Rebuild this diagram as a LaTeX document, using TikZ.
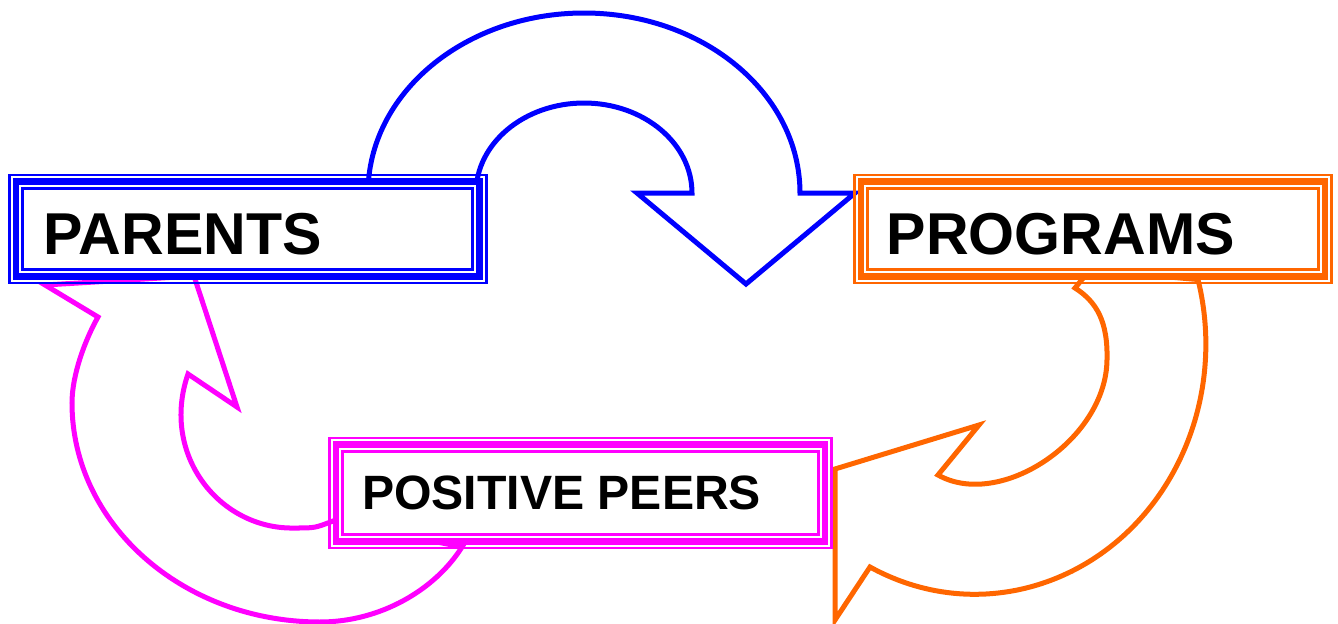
\documentclass[tikz,border=0pt]{standalone}
\usepackage{fontspec}
\setmainfont{Liberation Sans}
\usetikzlibrary{positioning}
\definecolor{PAR_BLUE}{HTML}{0000FF}
\definecolor{PRG_ORANGE}{HTML}{FF6600}
\definecolor{PEER_PINK}{HTML}{FF00FF}

\begin{document}
\begin{tikzpicture}[x=0.01cm, y=-0.01cm,
    bigarrow/.style={line width=0.05cm, line join=miter},
    tribox/.style={draw=#1, line width=0.065cm, fill=white, inner sep=0pt, outer sep=0pt},
    thinline/.style={line width=0.028cm},
    bigtxt/.style={font=\fontsize{16.8}{20}\selectfont\bfseries, inner sep=0pt},
    midtxt/.style={font=\fontsize{13.7}{16}\selectfont\bfseries, inner sep=0pt}]
      \useasboundingbox (0,0) rectangle (1338,624);

      % Parents -> Programs
      \draw[bigarrow, PAR_BLUE] (368,193) arc[start angle=180, end angle=360, x radius=216, y radius=180]
        -- (855,193) -- (746,284) -- (637,193) -- (692,193)
        arc[start angle=0, end angle=-180, x radius=108, y radius=90] -- cycle;

      % Programs -> Positive peers
      \draw[bigarrow, PRG_ORANGE] (835,620) -- (870,567)
        arc[start angle=117, end angle=-15, x radius=231, y radius=250]
        -- (1090,270) -- (1075,288)
        .. controls (1097,302) and (1108,322) .. (1107,360)
        .. controls (1106,440) and (1000,510) .. (938,475)
        -- (979,425) -- (835,469) -- cycle;

      % Positive peers -> Parents
      \draw[bigarrow, PEER_PINK] (45,285) -- (98,317)
        .. controls (85,340) and (72,375) .. (72,403)
        .. controls (72,524) and (183,622) .. (320,622)
        .. controls (380,622) and (435,590) .. (462,547)
        -- (333,521) .. controls (315,528) .. (295,528)
        .. controls (220,530) and (160,455) .. (188,374)
        -- (237,407) -- (194,276) -- cycle;

      % Boxes
      \node[tribox=PAR_BLUE, minimum width=4.635cm, minimum height=0.95cm] (parents) at (247.75,229) {};
      \draw[thinline, PAR_BLUE] ([shift={(-6.5,-6.5)}]parents.north west) rectangle ([shift={(6.5,6.5)}]parents.south east);
      \draw[thinline, PAR_BLUE] ([shift={(7,7)}]parents.north west) rectangle ([shift={(-7,-7)}]parents.south east);

      \node[tribox=PRG_ORANGE, minimum width=4.64cm, minimum height=0.95cm] (programs) at (1093,229) {};
      \draw[thinline, PRG_ORANGE] ([shift={(-6.5,-6.5)}]programs.north west) rectangle ([shift={(6.5,6.5)}]programs.south east);
      \draw[thinline, PRG_ORANGE] ([shift={(7,7)}]programs.north west) rectangle ([shift={(-7,-7)}]programs.south east);

      \node[tribox=PEER_PINK, minimum width=4.89cm, minimum height=0.97cm] (peers) at (580.5,493) {};
      \draw[thinline, PEER_PINK] ([shift={(-6.5,-6.5)}]peers.north west) rectangle ([shift={(6.5,6.5)}]peers.south east);
      \draw[thinline, PEER_PINK] ([shift={(7,7)}]peers.north west) rectangle ([shift={(-7,-7)}]peers.south east);

      % Labels
      \node[bigtxt, anchor=base west] (parentsTxt) at (43,254) {PARENTS};
      \node[bigtxt, anchor=base west] (programsTxt) at (886,254) {PROGRAMS};
      \node[midtxt, anchor=base west] (peersTxt) at (361.5,509) {POSITIVE PEERS};
    \end{tikzpicture}
\end{document}
